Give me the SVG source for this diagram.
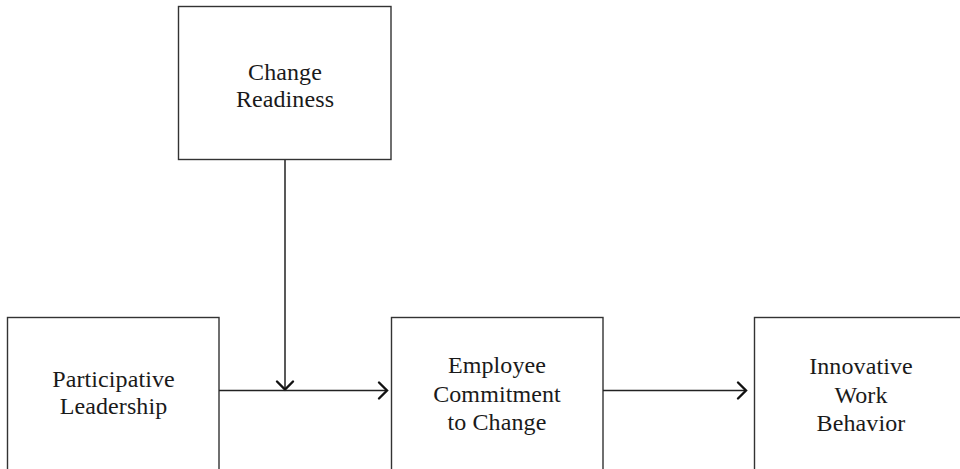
<svg xmlns="http://www.w3.org/2000/svg" width="960" height="469" viewBox="0 0 960 469">
  <style>
    .box { fill: #ffffff; stroke: #333333; stroke-width: 1.4; }
    .label { font-family: "Liberation Serif", "DejaVu Serif", serif; font-size: 24px; letter-spacing: 0.1px; fill: #1a1a1a; text-anchor: middle; }
    .link { stroke: #222222; stroke-width: 1.5; fill: none; }
    .head { stroke: #111111; stroke-width: 2.4; fill: none; stroke-linecap: round; stroke-linejoin: miter; }
  </style>
  <rect width="960" height="469" fill="#ffffff"/>

  <g id="change-readiness">
    <rect class="box" x="178.5" y="6.5" width="212.5" height="153"/>
    <text class="label" x="285" y="79.5">Change</text>
    <text class="label" x="285" y="107">Readiness</text>
  </g>

  <g id="participative-leadership">
    <rect class="box" x="7.5" y="317.5" width="211.5" height="170"/>
    <text class="label" x="113.5" y="387">Participative</text>
    <text class="label" x="113.5" y="414">Leadership</text>
  </g>

  <g id="employee-commitment">
    <rect class="box" x="391.5" y="317.5" width="211.5" height="170"/>
    <text class="label" x="497" y="373">Employee</text>
    <text class="label" x="497" y="401.5">Commitment</text>
    <text class="label" x="497" y="430">to Change</text>
  </g>

  <g id="innovative-work-behavior">
    <rect class="box" x="754.5" y="317.5" width="214" height="170"/>
    <text class="label" x="861" y="374">Innovative</text>
    <text class="label" x="861" y="402.5">Work</text>
    <text class="label" x="861" y="431">Behavior</text>
  </g>

  <g id="connectors">
    <!-- moderator: readiness down onto the leadership path -->
    <line class="link" x1="285" y1="160" x2="285" y2="388"/>
    <polyline class="head" points="277,381.5 285,389.5 293,381.5"/>
    <!-- leadership to commitment -->
    <line class="link" x1="219" y1="390.5" x2="387" y2="390.5"/>
    <polyline class="head" points="379,382.5 387,390.5 379,398.5"/>
    <!-- commitment to innovative behaviour -->
    <line class="link" x1="603" y1="390.5" x2="746" y2="390.5"/>
    <polyline class="head" points="738,382.5 746,390.5 738,398.5"/>
  </g>
</svg>
